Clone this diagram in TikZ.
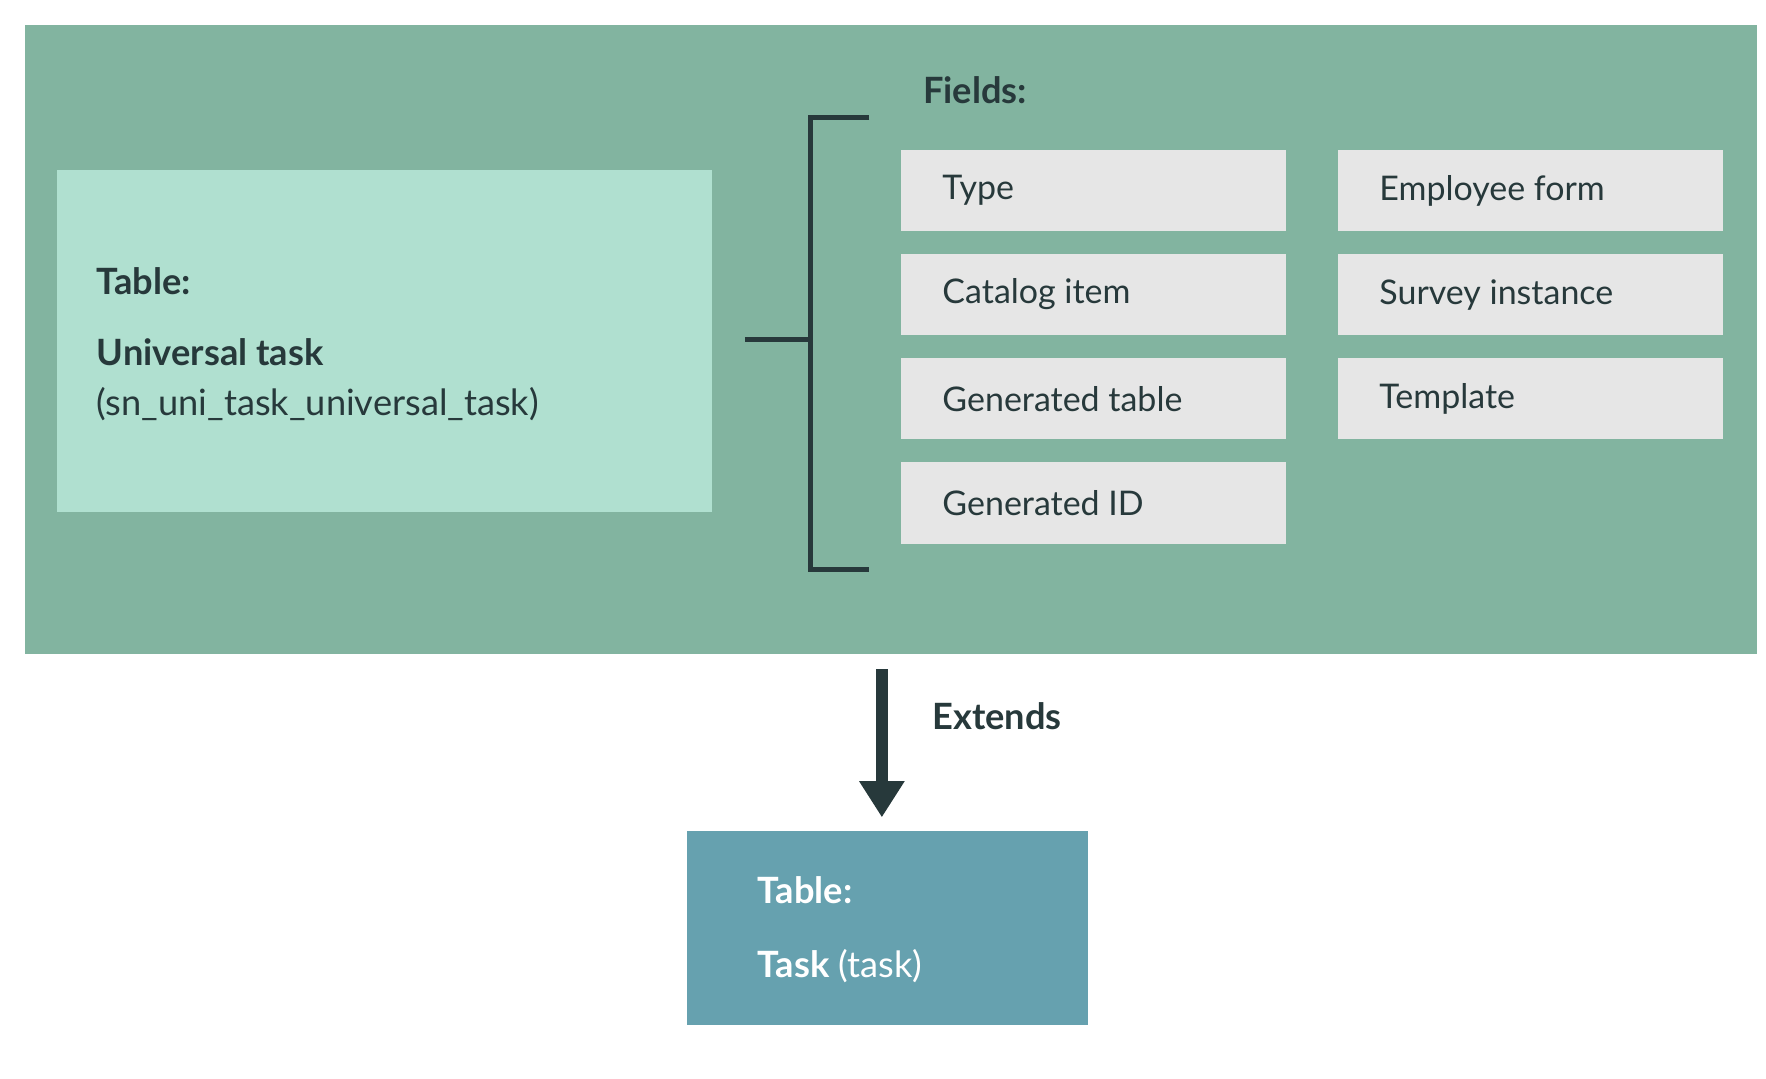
\documentclass[tikz,border=0pt]{standalone}
\usepackage{fontspec}
\setmainfont{Lato}
\usetikzlibrary{arrows.meta}
\definecolor{bg}{HTML}{82B4A0}
\definecolor{lt}{HTML}{B0E0D0}
\definecolor{fld}{HTML}{E6E6E6}
\definecolor{dk}{HTML}{27393B}
\definecolor{bl}{HTML}{66A1AF}
\begin{document}
\begin{tikzpicture}[x=1pt,y=-1pt,
  fbox/.style={fill=fld,draw=none,minimum width=340pt,minimum height=72pt,anchor=north west,inner sep=0pt},
  ftxt/.style={anchor=west,text=dk,font=\fontsize{30}{36}\selectfont},
  lbl/.style={anchor=west,text=dk,font=\fontsize{32}{38}\selectfont}]
\useasboundingbox (0,0) rectangle (1560,953);
\fill[bg] (22,22) rectangle (1552,578);
\node[fill=lt,minimum width=579pt,minimum height=302pt,anchor=north west,inner sep=0pt] (main) at (50,150) {};
\node[lbl,font=\bfseries\fontsize{32}{38}\selectfont] (t1) at (82,248) {Table:};
\node[lbl,font=\bfseries\fontsize{32}{38}\selectfont] (t2) at (82,311) {Universal task};
\node[lbl] (t3) at (82,357) {(sn\_uni\_task\_universal\_task)};
\coordinate (bm) at (658,300);
\coordinate (bj) at (716,300);
\draw[dk,line width=4pt] (bm) -- (bj);
\draw[dk,line width=4pt] (768,104) -| (716,503) -- (768,503);
\node[lbl,font=\bfseries\fontsize{32}{38}\selectfont] (fields) at (812,80) {Fields:};
\foreach \n/\x/\y/\t in {a/796/132/Type, b/796/224/Catalog item, c/796/316/Generated table, d/796/408/Generated ID, e/1182/132/Employee form, f/1182/224/Survey instance, g/1182/316/Template}{
  \node[fbox] (\n) at (\x,\y) {};
  \node[ftxt] at ([xshift=33pt]\n.west) {\t};
}
\coordinate (as) at (779,591);
\node[fill=bl,minimum width=354pt,minimum height=171pt,anchor=north west,inner sep=0pt] (task) at (607,734) {};
\draw[dk,line width=10pt,-{Triangle[width=38pt,length=32pt]}] (as) -- (779,722);
\node[lbl,font=\bfseries\fontsize{32}{38}\selectfont] (ext) at (820,633) {Extends};
\node[anchor=west,text=white,font=\bfseries\fontsize{32}{38}\selectfont] (tt1) at (666,786) {Table:};
\node[anchor=west,text=white,font=\fontsize{32}{38}\selectfont] (tt2) at (666,853) {\textbf{Task} (task)};
\end{tikzpicture}
\end{document}
